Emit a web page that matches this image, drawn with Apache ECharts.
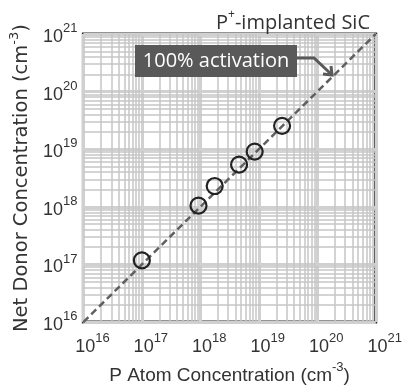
<!DOCTYPE html>
<html><head><meta charset="utf-8">
<script src="https://cdn.jsdelivr.net/npm/echarts@6/dist/echarts.min.js"></script>
<style>html,body{margin:0;padding:0;background:#fff}#c{width:405px;height:390px}</style>
</head><body><div id="c"></div>
<script>
// Data
const pAtom    = [1.0e17, 9.3e17, 1.76e18, 4.6e18, 8.5e18, 2.5e19];
const netDonor = [1.18e17, 1.05e18, 2.3e18, 5.4e18, 9.1e18, 2.55e19];
const fullActivation = [1e16, 1e21];
const decadeExponents = [16, 17, 18, 19, 20, 21];
const minorMultipliers = [2, 3, 4, 5, 6, 7, 8, 9];

const minorValues = [];
decadeExponents.slice(0, -1).forEach(e => minorMultipliers.forEach(m => minorValues.push(m * Math.pow(10, e))));

const tickFont = 'Liberation Sans, Arial, sans-serif';
const uiFont = 'Open Sans, Noto Sans, sans-serif';
const supFmt = v => '{b|10}{s|' + Math.round(Math.log10(v)) + '}';
const tickRich = {
  b: {fontSize: 18, fontFamily: tickFont, color: '#333', lineHeight: 24, verticalAlign: 'bottom'},
  s: {fontSize: 13, fontFamily: tickFont, color: '#333', lineHeight: 14, verticalAlign: 'top'}
};
const xNameRich = {
  n: {fontSize: 19, fontFamily: tickFont, color: '#333', lineHeight: 24, verticalAlign: 'bottom'},
  s: {fontSize: 13, fontFamily: tickFont, color: '#333', lineHeight: 14, verticalAlign: 'top'}
};
const yNameRich = {
  n: {fontSize: 19.5, fontFamily: 'DejaVu Sans, sans-serif', color: '#333', lineHeight: 24, verticalAlign: 'bottom'},
  s: {fontSize: 13, fontFamily: 'DejaVu Sans, sans-serif', color: '#333', lineHeight: 14, verticalAlign: 'top'}
};

const chart = echarts.init(document.getElementById('c'), null, {renderer: 'canvas'});
const axisCommon = {
  type: 'log', logBase: 10, min: 1e16, max: 1e21,
  axisTick: {show: false},
  axisLine: {show: false},
  splitLine: {show: true, lineStyle: {color: '#d0d0d0', width: 3}},
  nameLocation: 'middle'
};
chart.setOption({
  animation: false,
  title: {
    text: '{a|P}{s|+}{a|-implanted SiC}',
    right: 30, top: 4,
    textStyle: {rich: {
      a: {fontSize: 20, fontWeight: 'normal', fontFamily: uiFont, color: '#333', lineHeight: 24, verticalAlign: 'bottom'},
      s: {fontSize: 12, fontWeight: 'normal', fontFamily: uiFont, color: '#333', lineHeight: 15, verticalAlign: 'top'}
    }}
  },
  grid: {left: 82, right: 23, top: 34, bottom: 58, show: true, borderColor: '#2b2b2b', borderWidth: 3, backgroundColor: 'transparent'},
  xAxis: Object.assign({}, axisCommon, {
    name: '{n|P Atom Concentration (cm}{s|-3}{n|)}',
    nameGap: 38,
    nameTextStyle: {rich: xNameRich},
    axisLabel: {formatter: supFmt, rich: tickRich, margin: 10, padding: [0, 0, 0, 18], showMinLabel: true, showMaxLabel: true}
  }),
  yAxis: Object.assign({}, axisCommon, {
    name: '{n|Net Donor Concentration (cm}{s|-3}{n|)}',
    nameGap: 50, nameRotate: 90,
    nameTextStyle: {rich: yNameRich},
    axisLabel: {formatter: supFmt, rich: tickRich, margin: 6, showMinLabel: true, showMaxLabel: true}
  }),
  series: [
    {
      type: 'line', data: [], silent: true, z: 1,
      markLine: {
        z: 1, silent: true, symbol: ['none', 'none'], label: {show: false}, animation: false,
        lineStyle: {color: '#c6c6c6', width: 1.5, type: 'solid'},
        data: minorValues.map(v => ({xAxis: v})).concat(minorValues.map(v => ({yAxis: v})))
      }
    },
    {
      type: 'line', z: 3, showSymbol: false, silent: true,
      data: fullActivation.map(v => [v, v]),
      lineStyle: {color: '#606060', width: 2.5, type: [7, 4]}
    },
    {
      type: 'scatter', z: 4, symbol: 'circle', symbolSize: 16,
      data: pAtom.map((x, i) => [x, netDonor[i]]),
      itemStyle: {color: 'rgba(255,255,255,0)', borderColor: '#222', borderWidth: 2.2, opacity: 1}
    }
  ],
  graphic: [
    {type: 'rect', shape: {x: 135, y: 45, width: 162, height: 32}, style: {fill: '#595959'}, z: 100},
    {type: 'text', x: 216, y: 61, style: {text: '100% activation', fill: '#fff', font: '20px ' + uiFont, textAlign: 'center', textVerticalAlign: 'middle'}, z: 101},
    {type: 'polyline', shape: {points: [[296, 58], [314, 58], [331, 74]]}, style: {stroke: '#595959', lineWidth: 3, fill: null}, z: 100},
    {type: 'polyline', shape: {points: [[323, 74], [332, 75], [331, 66]]}, style: {stroke: '#595959', lineWidth: 3, fill: null}, z: 100}
  ]
});
</script></body></html>
